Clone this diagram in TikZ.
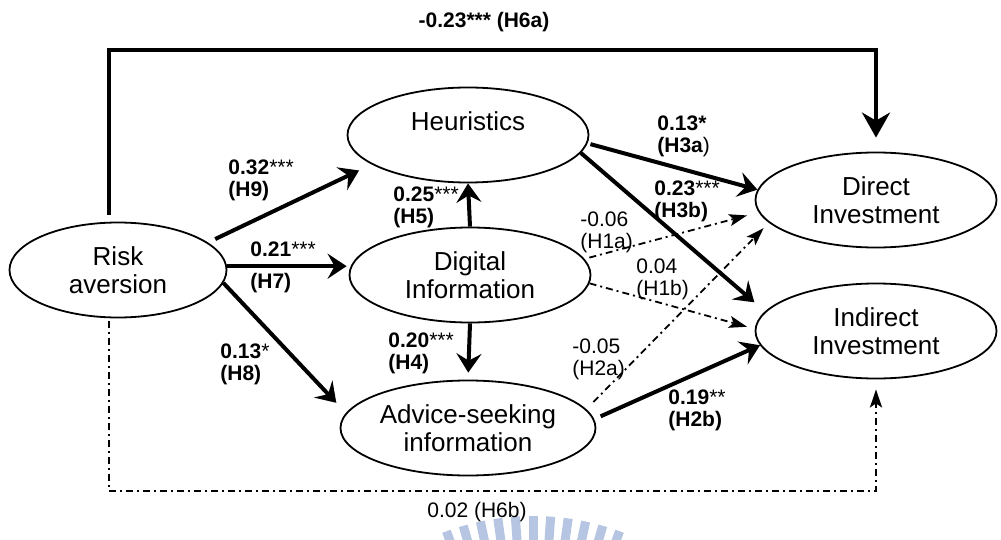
\documentclass[tikz,border=0pt]{standalone}
\usepackage{fontspec}
\setsansfont{Liberation Sans}
\usepackage{tikz}
\usetikzlibrary{shapes.geometric, arrows.meta}
\definecolor{wmark}{RGB}{182,197,226}

\begin{document}
\begin{tikzpicture}[
  x=0.5pt, y=-0.5pt,
  font=\sffamily,
  construct/.style={draw, ellipse, line width=0.9pt, minimum width=120.5pt, minimum height=47.5pt, inner sep=1pt, align=center, font=\sffamily\fontsize{13}{14}\selectfont},
  strong/.style={-{Stealth[length=9.5pt, width=12.5pt, inset=3.5pt]}, line width=2pt},
  weak/.style={-{Stealth[length=9pt, width=6pt, inset=2pt]}, line width=0.9pt, dash pattern=on 3.5pt off 2pt on 1pt off 2pt},
  coef/.style={align=left, inner sep=0pt, font=\sffamily\bfseries\fontsize{10.5}{11}\selectfont},
  nscoef/.style={align=left, inner sep=0pt, font=\sffamily\fontsize{10.5}{11}\selectfont}
]
  \useasboundingbox (0,0) rectangle (1001,540);

  % watermark at the bottom
  \foreach \a in {-20,-16,...,20}
    \fill[wmark, rotate around={\a:(533,769)}] (528.5,516) rectangle (537.5,600);

  \node[construct, minimum width=108.5pt] (risk) at (118,270) {Risk\\aversion};
  \node[construct] (heur) at (468,135) {Heuristics\\\mbox{}};
  \node[construct] (dig) at (470,275) {Digital\\Information};
  \node[construct] (adv) at (468,428) {Advice-seeking\\information};
  \node[construct] (dir) at (876,200) {Direct\\Investment};
  \node[construct] (ind) at (876,331) {Indirect\\Investment};

  \coordinate (toprail) at (0,50);
  \coordinate (botrail) at (0,491);

  \draw[strong, shorten <=4pt, shorten >=7pt] (risk.17) -- (heur.197);
  \draw[strong, shorten >=1pt] (risk.2) -- (risk.2 -| dig.west);
  \draw[strong, shorten >=7pt] (risk.-7) -- (adv.173);
  \draw[strong] (dig.north) -- (heur.south);
  \draw[strong, shorten >=3.5pt] (dig.south) -- (adv.north);
  \draw[strong, shorten <=1.5pt] (heur.-4) -- (dir.175);
  \draw[strong, shorten >=7pt] (heur.-9) -- (ind.170);
  \draw[weak, shorten <=2.5pt, shorten >=6pt] (dig.8) -- (dir.186);
  \draw[weak, shorten >=4pt] (dig.-4) -- (ind.179);
  \draw[weak, shorten <=5pt, shorten >=3.75pt] (adv.9) -- (dir.192);
  \draw[strong, shorten <=3.5pt] (adv.4) -- (ind.187);

  \draw[strong, -{Stealth[length=12.5pt, width=14pt, inset=4pt]}, shorten <=3.5pt, shorten >=7pt]
    ([xshift=-4.5pt]risk.north) |- (toprail -| dir.north) -- (dir.north);
  \draw[weak, line width=1.3pt, shorten <=1.5pt, shorten >=5pt]
    ([xshift=-4.5pt]risk.south) |- (botrail -| ind.south) -- (ind.south);

  \node[coef, anchor=west] (l9) at (228,180) {0.32{\mdseries ***}\\(H9)};
  \node[coef, anchor=west] (l7) at (250,267) {0.21{\mdseries ***}\\[5pt](H7)};
  \node[coef, anchor=west] (l5) at (393,207) {0.25{\mdseries ***}\\(H5)};
  \node[coef, anchor=west] (l8) at (220,364) {0.13{\mdseries *}\\(H8)};
  \node[coef, anchor=west] (l4) at (388,353) {0.20{\mdseries ***}\\(H4)};
  \node[coef, anchor=west] (l3a) at (657,136) {0.13*\\(H3a{\mdseries )}};
  \node[coef, anchor=west] (l3b) at (654,201) {0.23{\mdseries ***}\\(H3b)};
  \node[nscoef, anchor=west] (l1a) at (580,232) {-0.06\\(H1a)};
  \node[nscoef, anchor=west] (l1b) at (636,279) {0.04\\(H1b)};
  \node[nscoef, anchor=west] (l2a) at (572,359) {-0.05\\(H2a)};
  \node[coef, anchor=west] (l2b) at (668,410) {0.19{\mdseries **}\\(H2b)};
  \node[coef] (l6a) at (484,22) {-0.23*** (H6a)};
  \node[nscoef] (l6b) at (477,512) {0.02 (H6b)};
\end{tikzpicture}
\end{document}
